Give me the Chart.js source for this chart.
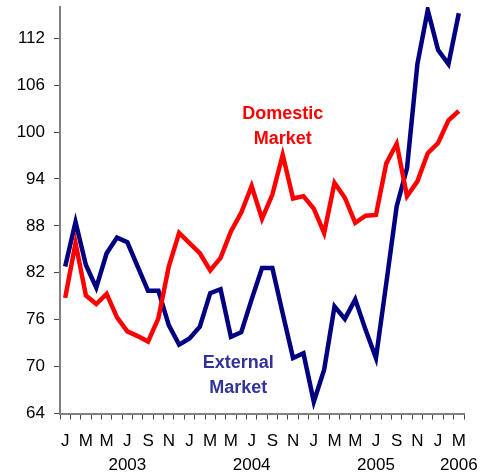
<!DOCTYPE html>
<html>
<head>
<meta charset="utf-8">
<script src="https://cdn.jsdelivr.net/npm/chart.js@4.4.1/dist/chart.umd.min.js"></script>
<style>
  html, body { margin: 0; padding: 0; background: #fff; }
  #wrap { width: 481px; height: 474px; }
</style>
</head>
<body>
<div id="wrap"><canvas id="c"></canvas></div>
<script>
// Mois de janvier 2003 à mars 2006
const months = ['J','F','M','A','M','J','J','A','S','O','N','D',
                'J','F','M','A','M','J','J','A','S','O','N','D',
                'J','F','M','A','M','J','J','A','S','O','N','D',
                'J','F','M'];
// Année affichée sous certains mois (index -> année)
const yearLabels = { 6: '2003', 18: '2004', 30: '2005', 38: '2006' };

const domestic = [78.8, 85.8, 79.1, 78.0, 79.3, 76.3, 74.5, 73.9, 73.2, 76.2, 82.8, 87.1,
                  85.8, 84.5, 82.3, 83.9, 87.3, 89.7, 93.1, 88.9, 92.0, 97.1, 91.5, 91.8,
                  90.2, 87.1, 93.5, 91.6, 88.4, 89.3, 89.4, 96.0, 98.5, 91.8, 93.7, 97.3,
                  98.6, 101.5, 102.7];
const external = [82.8, 88.5, 83.0, 80.1, 84.5, 86.5, 85.9, 82.8, 79.7, 79.7, 75.3, 72.8,
                  73.6, 75.1, 79.4, 79.9, 73.8, 74.4, 78.6, 82.6, 82.6, 76.8, 71.1, 71.7,
                  65.5, 69.6, 77.7, 76.1, 78.6, 74.7, 71.1, 80.7, 90.5, 95.4, 108.7, 115.6,
                  110.5, 108.7, 115.2];

const yTicks = [64, 70, 76, 82, 88, 94, 100, 106, 112];

// Étiquettes des séries: [lignes, index x, valeur y, couleur]
const seriesLabels = [
    { lines: ['Domestic', 'Market'], x: 21.0, y: 100.7, color: '#ff0000' },
    { lines: ['External', 'Market'], x: 16.7, y: 68.9, color: '#333399' }
];

const FONT = '"Liberation Sans", Arial, sans-serif';

// Plugin pour dessiner les étiquettes des séries
const labelPlugin = {
    id: 'seriesLabels',
    afterDatasetsDraw(chart) {
        const ctx = chart.ctx;
        const xs = chart.scales.x, ys = chart.scales.y;
        ctx.save();
        ctx.font = 'bold 18px ' + FONT;
        ctx.textAlign = 'center';
        ctx.textBaseline = 'middle';
        seriesLabels.forEach(l => {
            const px = xs.getPixelForValue(l.x);
            const py = ys.getPixelForValue(l.y);
            ctx.fillStyle = l.color;
            ctx.fillText(l.lines[0], px, py - 12.5);
            ctx.fillText(l.lines[1], px, py + 12.5);
        });
        ctx.restore();
    }
};

new Chart(document.getElementById('c').getContext('2d'), {
    type: 'line',
    data: {
        labels: months,
        datasets: [
            {
                label: 'Domestic Market',
                data: domestic,
                borderColor: '#ff0000',
                borderWidth: 4.5,
                pointRadius: 0,
                tension: 0
            },
            {
                label: 'External Market',
                data: external,
                borderColor: '#000080',
                borderWidth: 4.5,
                pointRadius: 0,
                tension: 0
            }
        ]
    },
    options: {
        responsive: true,
        maintainAspectRatio: false,
        animation: false,
        layout: { padding: { top: 0, right: 17, bottom: 0, left: 0 } },
        plugins: {
            legend: { display: false },
            tooltip: { enabled: false }
        },
        scales: {
            x: {
                offset: true,
                grid: {
                    offset: true,
                    drawOnChartArea: false,
                    tickLength: 6,
                    color: '#444',
                    lineWidth: 1
                },
                border: { color: '#808080', width: 2 },
                ticks: {
                    autoSkip: false,
                    maxRotation: 0,
                    padding: 9,
                    color: '#000',
                    font: { family: FONT, size: 17, lineHeight: 1.45 },
                    callback: function(val, i) {
                        if (i % 2 !== 0) return '';
                        const m = months[i];
                        return yearLabels[i] ? [m, yearLabels[i]] : m;
                    }
                },
                afterFit: function(scale) {
                    scale.height = 60.5;
                    scale.paddingLeft = 0;
                    scale.paddingRight = 0;
                }
            },
            y: {
                min: 64,
                max: 116,
                grid: {
                    drawOnChartArea: false,
                    tickLength: 6,
                    color: '#444',
                    lineWidth: 1
                },
                border: { color: '#808080', width: 2 },
                ticks: {
                    padding: 9,
                    color: '#000',
                    font: { family: FONT, size: 17 }
                },
                afterBuildTicks: function(scale) {
                    scale.ticks = yTicks.map(v => ({ value: v }));
                },
                afterFit: function(scale) {
                    scale.width = 60;
                    scale.paddingTop = 7;
                    scale.paddingBottom = 0;
                }
            }
        }
    },
    plugins: [labelPlugin]
});
</script>
</body>
</html>
